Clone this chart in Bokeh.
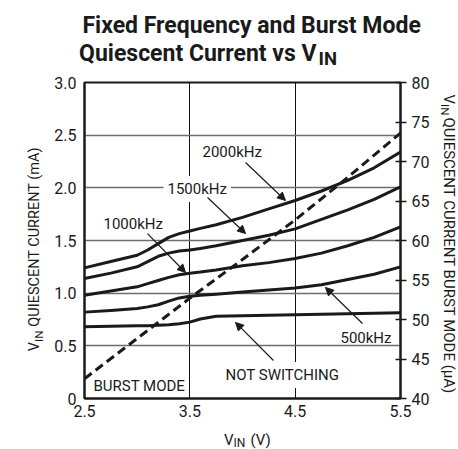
import math
from bokeh.plotting import figure
from bokeh.models import Range1d, LinearAxis, FixedTicker, Label, Arrow, NormalHead
from bokeh.layouts import column, row
from bokeh.core.properties import value
from bokeh.embed import file_html
from bokeh.resources import INLINE

# ---- data ----
vin = [2.5, 2.75, 3.0, 3.1, 3.2, 3.3, 3.4, 3.5, 3.6, 3.75, 4.0, 4.25, 4.5, 4.75, 5.0, 5.25, 5.5]
i_2000k = [1.24, 1.30, 1.36, 1.41, 1.47, 1.53, 1.565, 1.59, 1.615, 1.65, 1.72, 1.80, 1.88, 1.97, 2.07, 2.19, 2.34]
i_1500k = [1.14, 1.19, 1.25, 1.30, 1.35, 1.38, 1.40, 1.41, 1.425, 1.45, 1.50, 1.55, 1.61, 1.70, 1.79, 1.89, 2.01]
i_1000k = [0.98, 1.02, 1.06, 1.09, 1.12, 1.15, 1.175, 1.19, 1.20, 1.22, 1.26, 1.29, 1.33, 1.38, 1.45, 1.53, 1.63]
i_500k = [0.82, 0.835, 0.855, 0.87, 0.89, 0.925, 0.955, 0.97, 0.98, 0.99, 1.01, 1.03, 1.05, 1.08, 1.13, 1.18, 1.25]
i_not_sw = [0.68, 0.685, 0.69, 0.69, 0.695, 0.70, 0.71, 0.725, 0.755, 0.78, 0.785, 0.79, 0.795, 0.80, 0.805, 0.81, 0.815]
vin_burst = [2.5, 3.0, 3.5, 4.0, 4.5, 5.0, 5.5]
i_burst_uA = [42.5, 47.6, 52.7, 57.6, 62.6, 68.0, 73.6]

x_ticks = [2.5, 3.5, 4.5, 5.5]
y_ticks = [0, 0.5, 1.0, 1.5, 2.0, 2.5, 3.0]
y_tick_labels = ["0", "0.5", "1.0", "1.5", "2.0", "2.5", "3.0"]
y2_ticks = [40, 45, 50, 55, 60, 65, 70, 75, 80]

FONT = "Roboto"
INK = "#1a1a1a"

# ---------------- main chart (page x 48..432, y 72..424) ----------------
p = figure(width=384, height=352, output_backend="svg", toolbar_location=None,
           x_range=Range1d(2.5, 5.5), y_range=Range1d(0, 3.0),
           min_border_left=36, min_border_right=32, min_border_top=10, min_border_bottom=26)
p.extra_y_ranges = {"burst": Range1d(40, 80)}
p.background_fill_color = "white"
p.border_fill_color = "white"
p.outline_line_color = INK
p.outline_line_width = 2

p.xaxis.ticker = FixedTicker(ticks=x_ticks)
p.yaxis.ticker = FixedTicker(ticks=y_ticks)
p.yaxis.major_label_overrides = {t: s for t, s in zip(y_ticks, y_tick_labels)}
for ax in (p.xaxis[0], p.yaxis[0]):
    ax.major_tick_in = 0
    ax.major_tick_out = 0
    ax.minor_tick_in = 0
    ax.minor_tick_out = 0
    ax.axis_line_color = INK
    ax.axis_line_width = 2
    ax.major_label_text_font = FONT
    ax.major_label_text_font_size = "16px"
    ax.major_label_text_color = INK
p.xaxis.major_label_standoff = 6
p.yaxis.major_label_standoff = 8

ax2 = LinearAxis(y_range_name="burst", ticker=FixedTicker(ticks=y2_ticks))
ax2.major_tick_in = 5
ax2.major_tick_out = 6
ax2.major_tick_line_width = 1.5
ax2.major_tick_line_color = INK
ax2.minor_tick_in = 0
ax2.minor_tick_out = 0
ax2.axis_line_color = INK
ax2.axis_line_width = 2
ax2.major_label_text_font = FONT
ax2.major_label_text_font_size = "16px"
ax2.major_label_text_color = INK
ax2.major_label_standoff = 5
p.add_layout(ax2, "right")

p.xgrid.grid_line_color = "#111111"
p.xgrid.grid_line_width = 1
p.ygrid.grid_line_color = "#6e6e6e"
p.ygrid.grid_line_width = 1.3

for ys in (i_2000k, i_1500k, i_1000k, i_500k, i_not_sw):
    p.line(vin, ys, line_width=3, line_color=INK, line_join="round")
p.line(vin_burst, i_burst_uA, y_range_name="burst", line_width=3, line_color=INK, line_dash="9 5")

def note(x, y, text, bg=False):
    kw = dict(background_fill_color="white", padding=4) if bg else {}
    p.add_layout(Label(x=x, y=y, text=text, text_font=FONT, text_font_size="15px",
                       text_color=INK, text_align="left", text_baseline="middle", **kw))

note(3.620, 2.340, "2000kHz")
note(3.250, 1.989, "1500kHz", bg=True)
note(2.680, 1.652, "1000kHz")
note(4.930, 0.574, "500kHz")
note(3.801, 0.223, "NOT SWITCHING", bg=True)
note(2.585, 0.123, "BURST MODE")

def arrow(x0, y0, x1, y1):
    p.add_layout(Arrow(x_start=x0, y_start=y0, x_end=x1, y_end=y1, line_width=1.2, line_color=INK,
                       end=NormalHead(size=8, fill_color=INK, line_color=INK, line_width=1)))

arrow(4.029, 2.240, 4.408, 1.880)
arrow(3.668, 1.908, 4.029, 1.566)
arrow(3.098, 1.566, 3.459, 1.196)
arrow(5.139, 0.712, 4.788, 1.054)
arrow(4.294, 0.361, 3.934, 0.722)

# ---------------- text panels (title, axis titles) ----------------
def text_fig(w, h):
    f = figure(width=w, height=h, x_range=Range1d(0, w), y_range=Range1d(h, 0),
               output_backend="svg", toolbar_location=None,
               x_axis_type=None, y_axis_type=None, min_border=0)
    f.outline_line_color = None
    f.background_fill_color = "white"
    f.border_fill_color = "white"
    return f

def txt(f, x, y, s, size, align="left", angle=0.0, bold=False):
    f.text(x=[x], y=[y], text=[s], text_font=value(FONT), text_font_size=value(size),
           text_font_style="bold" if bold else "normal", text_color=INK,
           text_align=align, text_baseline="middle", angle=angle)

# title panel: page x 0..458, y 0..72
t = text_fig(458, 72)
txt(t, 82, 25, "Fixed Frequency and Burst Mode", "23px", bold=True)
txt(t, 316, 52.5, "Quiescent Current vs V", "23px", align="right", bold=True)
txt(t, 318, 58, "IN", "18.5px", bold=True)

# left axis title panel: page x 0..48, y 72..424
lf = text_fig(48, 352)
txt(lf, 34, 289, "V", "14.5px", align="right", angle=math.pi / 2)
txt(lf, 38, 289, "IN", "11.5px", align="left", angle=math.pi / 2)
txt(lf, 34, 272, "QUIESCENT CURRENT (mA)", "14.5px", align="left", angle=math.pi / 2)

# right axis title panel: page x 432..458, y 72..424
rf = text_fig(26, 352)
txt(rf, 16, 24, "V", "15px", align="right", angle=-math.pi / 2)
txt(rf, 12, 24, "IN", "11.5px", align="left", angle=-math.pi / 2)
txt(rf, 16, 39, "QUIESCENT CURRENT BURST MODE (\u00b5A)", "15px", align="left", angle=-math.pi / 2)

# x axis title panel: page x 0..458, y 424..449
bf = text_fig(458, 25)
txt(bf, 233, 15, "V", "15px", align="right")
txt(bf, 233, 18.5, "IN", "12px", align="left")
txt(bf, 250, 15, "(V)", "15px", align="left")

layout = column(t, row(lf, p, rf, spacing=0), bf, spacing=0)
open("out.html", "w").write(file_html(layout, INLINE))
